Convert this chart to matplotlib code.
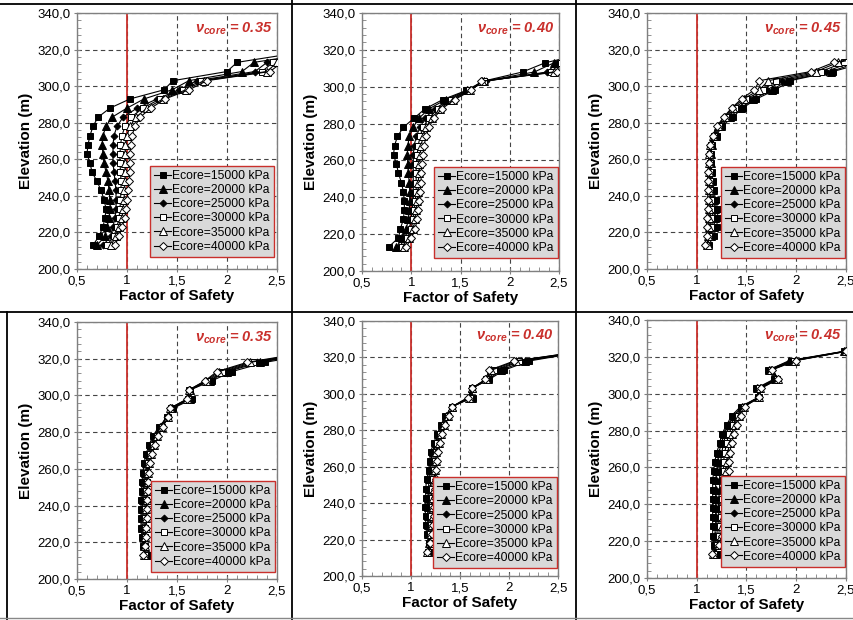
import matplotlib
matplotlib.use("Agg")
import matplotlib.pyplot as plt
from matplotlib.lines import Line2D
from matplotlib.ticker import FuncFormatter, MultipleLocator

plt.rcParams['font.family'] = ['Liberation Sans', 'DejaVu Sans']
plt.rcParams['mathtext.fontset'] = 'custom'
plt.rcParams['mathtext.it'] = 'Liberation Sans:italic:bold'
plt.rcParams['mathtext.rm'] = 'Liberation Sans:bold'

# ---------------- data ----------------
series_labels = ["Ecore=15000 kPa", "Ecore=20000 kPa", "Ecore=25000 kPa",
                 "Ecore=30000 kPa", "Ecore=35000 kPa", "Ecore=40000 kPa"]
nu_labels = ["0.35", "0.40", "0.45", "0.35", "0.40", "0.45"]

elev_top = [213, 218, 223, 228, 233, 238, 243, 248, 253, 258, 263, 268, 273,
            278, 283, 288, 293, 298, 303, 308, 313, 318]
elev_bot = [213, 218, 223, 228, 233, 238, 243, 248, 253, 258, 263, 268, 273,
            278, 283, 288, 293, 298, 303, 308, 313, 318, 323]

# Panel 1 : nu = 0.35 (top)
p1_s1 = [0.66, 0.72, 0.76, 0.78, 0.79, 0.77, 0.74, 0.70, 0.65, 0.63, 0.60, 0.61, 0.63, 0.66, 0.71, 0.83, 1.03, 1.37, 1.46, 2.00, 2.10, 2.68]
p1_s2 = [0.70, 0.78, 0.80, 0.82, 0.83, 0.83, 0.82, 0.81, 0.79, 0.77, 0.76, 0.75, 0.76, 0.79, 0.85, 1.00, 1.17, 1.45, 1.62, 2.15, 2.27, 2.85]
p1_s3 = [0.76, 0.84, 0.86, 0.88, 0.89, 0.89, 0.89, 0.88, 0.87, 0.86, 0.86, 0.86, 0.87, 0.90, 0.96, 1.10, 1.30, 1.52, 1.70, 2.28, 2.40, 2.95]
p1_s4 = [0.80, 0.87, 0.90, 0.92, 0.93, 0.935, 0.94, 0.94, 0.935, 0.93, 0.93, 0.935, 0.95, 0.98, 1.04, 1.16, 1.33, 1.56, 1.74, 2.35, 2.46, 3.00]
p1_s5 = [0.84, 0.89, 0.92, 0.95, 0.96, 0.97, 0.975, 0.98, 0.98, 0.98, 0.98, 0.985, 1.00, 1.03, 1.09, 1.20, 1.36, 1.59, 1.77, 2.40, 2.50, 3.05]
p1_s6 = [0.88, 0.92, 0.95, 0.98, 0.99, 1.00, 1.01, 1.02, 1.03, 1.03, 1.03, 1.04, 1.05, 1.08, 1.13, 1.24, 1.38, 1.62, 1.80, 2.43, 2.55, 3.10]

# Panel 2 : nu = 0.40 (top)
p2_s1 = [0.77, 0.87, 0.89, 0.92, 0.93, 0.93, 0.92, 0.90, 0.87, 0.85, 0.82, 0.83, 0.86, 0.92, 1.03, 1.14, 1.32, 1.56, 1.73, 2.13, 2.36, 2.77]
p2_s2 = [0.85, 0.91, 0.95, 0.97, 0.98, 0.985, 0.985, 0.98, 0.97, 0.965, 0.96, 0.965, 0.98, 1.02, 1.08, 1.18, 1.35, 1.57, 1.74, 2.25, 2.45, 2.95]
p2_s3 = [0.88, 0.94, 0.98, 1.00, 1.01, 1.02, 1.02, 1.02, 1.02, 1.02, 1.02, 1.03, 1.05, 1.09, 1.14, 1.24, 1.38, 1.58, 1.76, 2.38, 2.48, 3.00]
p2_s4 = [0.91, 0.96, 1.00, 1.02, 1.03, 1.04, 1.05, 1.05, 1.05, 1.05, 1.06, 1.07, 1.09, 1.12, 1.18, 1.27, 1.40, 1.59, 1.74, 2.42, 2.52, 3.05]
p2_s5 = [0.93, 0.98, 1.02, 1.04, 1.05, 1.06, 1.07, 1.07, 1.08, 1.08, 1.09, 1.10, 1.12, 1.15, 1.21, 1.29, 1.42, 1.60, 1.72, 2.45, 2.55, 3.05]
p2_s6 = [0.95, 1.00, 1.04, 1.06, 1.07, 1.08, 1.09, 1.10, 1.10, 1.11, 1.12, 1.13, 1.15, 1.18, 1.23, 1.31, 1.44, 1.61, 1.71, 2.48, 2.58, 3.10]

# Panel 3 : nu = 0.45 (top)
p3_s1 = [1.12, 1.17, 1.20, 1.21, 1.21, 1.19, 1.17, 1.16, 1.15, 1.145, 1.14, 1.15, 1.20, 1.25, 1.36, 1.46, 1.60, 1.79, 1.94, 2.37, 2.70, 3.10]
p3_s2 = [1.10, 1.14, 1.17, 1.18, 1.18, 1.17, 1.16, 1.15, 1.14, 1.14, 1.14, 1.15, 1.19, 1.24, 1.33, 1.44, 1.57, 1.76, 1.91, 2.35, 2.62, 3.05]
p3_s3 = [1.10, 1.13, 1.15, 1.16, 1.16, 1.155, 1.15, 1.14, 1.135, 1.135, 1.135, 1.145, 1.18, 1.23, 1.31, 1.41, 1.53, 1.71, 1.86, 2.30, 2.55, 3.00]
p3_s4 = [1.10, 1.12, 1.14, 1.14, 1.14, 1.14, 1.135, 1.13, 1.13, 1.13, 1.13, 1.14, 1.17, 1.22, 1.29, 1.38, 1.50, 1.67, 1.80, 2.25, 2.48, 2.95]
p3_s5 = [1.11, 1.11, 1.12, 1.12, 1.12, 1.125, 1.125, 1.12, 1.12, 1.12, 1.125, 1.135, 1.165, 1.21, 1.28, 1.36, 1.47, 1.63, 1.72, 2.20, 2.42, 2.90]
p3_s6 = [1.08, 1.10, 1.10, 1.10, 1.11, 1.11, 1.11, 1.11, 1.11, 1.12, 1.12, 1.13, 1.16, 1.20, 1.27, 1.35, 1.45, 1.58, 1.63, 2.15, 2.38, 2.85]

# Panel 4 : nu = 0.35 (bottom)
p4_s1 = [1.25, 1.16, 1.15, 1.14, 1.14, 1.14, 1.14, 1.145, 1.15, 1.16, 1.17, 1.19, 1.22, 1.26, 1.32, 1.40, 1.46, 1.65, 1.63, 1.85, 2.05, 2.38, 2.90]
p4_s2 = [1.22, 1.17, 1.16, 1.15, 1.15, 1.15, 1.155, 1.16, 1.165, 1.175, 1.19, 1.21, 1.24, 1.28, 1.33, 1.40, 1.45, 1.63, 1.63, 1.83, 2.00, 2.33, 2.85]
p4_s3 = [1.20, 1.17, 1.17, 1.16, 1.165, 1.17, 1.17, 1.175, 1.18, 1.19, 1.20, 1.22, 1.25, 1.29, 1.34, 1.40, 1.44, 1.62, 1.62, 1.82, 1.97, 2.30, 2.82]
p4_s4 = [1.18, 1.18, 1.18, 1.175, 1.18, 1.18, 1.185, 1.19, 1.195, 1.20, 1.21, 1.23, 1.26, 1.30, 1.35, 1.41, 1.44, 1.61, 1.62, 1.80, 1.95, 2.26, 2.80]
p4_s5 = [1.17, 1.18, 1.18, 1.185, 1.19, 1.19, 1.195, 1.20, 1.205, 1.21, 1.22, 1.24, 1.27, 1.30, 1.35, 1.41, 1.43, 1.60, 1.62, 1.79, 1.92, 2.23, 2.78]
p4_s6 = [1.16, 1.18, 1.19, 1.19, 1.20, 1.20, 1.20, 1.205, 1.21, 1.22, 1.23, 1.25, 1.28, 1.31, 1.36, 1.41, 1.43, 1.60, 1.62, 1.78, 1.90, 2.20, 2.75]

# Panel 5 : nu = 0.40 (bottom)
p5_s1 = [1.21, 1.18, 1.16, 1.15, 1.15, 1.14, 1.15, 1.15, 1.16, 1.18, 1.19, 1.20, 1.23, 1.27, 1.31, 1.35, 1.42, 1.63, 1.62, 1.80, 1.95, 2.20, 2.75]
p5_s2 = [1.19, 1.18, 1.17, 1.17, 1.17, 1.17, 1.17, 1.18, 1.18, 1.19, 1.20, 1.22, 1.25, 1.28, 1.32, 1.36, 1.42, 1.62, 1.62, 1.79, 1.92, 2.16, 2.73]
p5_s3 = [1.18, 1.18, 1.18, 1.18, 1.19, 1.19, 1.19, 1.20, 1.20, 1.21, 1.22, 1.23, 1.26, 1.29, 1.33, 1.37, 1.42, 1.61, 1.62, 1.78, 1.88, 2.12, 2.72]
p5_s4 = [1.17, 1.19, 1.19, 1.20, 1.20, 1.21, 1.21, 1.21, 1.22, 1.23, 1.24, 1.25, 1.27, 1.30, 1.34, 1.38, 1.42, 1.60, 1.62, 1.77, 1.85, 2.10, 2.71]
p5_s5 = [1.16, 1.19, 1.20, 1.21, 1.22, 1.22, 1.22, 1.23, 1.24, 1.24, 1.25, 1.26, 1.29, 1.31, 1.34, 1.38, 1.42, 1.59, 1.62, 1.77, 1.82, 2.07, 2.70]
p5_s6 = [1.16, 1.19, 1.21, 1.22, 1.23, 1.23, 1.24, 1.24, 1.25, 1.26, 1.27, 1.28, 1.30, 1.32, 1.35, 1.39, 1.42, 1.58, 1.62, 1.76, 1.80, 2.05, 2.70]

# Panel 6 : nu = 0.45 (bottom)
p6_s1 = [1.21, 1.17, 1.16, 1.16, 1.16, 1.16, 1.16, 1.16, 1.16, 1.17, 1.18, 1.20, 1.23, 1.25, 1.30, 1.35, 1.44, 1.62, 1.60, 1.78, 1.72, 1.95, 2.48]
p6_s2 = [1.19, 1.18, 1.18, 1.19, 1.19, 1.19, 1.19, 1.19, 1.19, 1.20, 1.21, 1.22, 1.25, 1.27, 1.32, 1.37, 1.45, 1.62, 1.61, 1.79, 1.73, 1.93, 2.48]
p6_s3 = [1.18, 1.19, 1.20, 1.21, 1.22, 1.22, 1.22, 1.23, 1.23, 1.23, 1.24, 1.25, 1.27, 1.29, 1.34, 1.39, 1.46, 1.62, 1.62, 1.80, 1.74, 1.96, 2.49]
p6_s4 = [1.17, 1.20, 1.22, 1.23, 1.24, 1.25, 1.25, 1.26, 1.26, 1.27, 1.27, 1.28, 1.30, 1.32, 1.36, 1.41, 1.47, 1.63, 1.63, 1.81, 1.75, 1.98, 2.50]
p6_s5 = [1.16, 1.21, 1.24, 1.25, 1.26, 1.27, 1.28, 1.28, 1.29, 1.29, 1.30, 1.31, 1.33, 1.35, 1.38, 1.42, 1.47, 1.63, 1.64, 1.82, 1.75, 1.99, 2.50]
p6_s6 = [1.15, 1.22, 1.25, 1.27, 1.28, 1.29, 1.30, 1.31, 1.31, 1.32, 1.32, 1.33, 1.35, 1.37, 1.40, 1.44, 1.48, 1.63, 1.65, 1.82, 1.76, 2.00, 2.50]

panels = [
    (elev_top, [p1_s1, p1_s2, p1_s3, p1_s4, p1_s5, p1_s6]),
    (elev_top, [p2_s1, p2_s2, p2_s3, p2_s4, p2_s5, p2_s6]),
    (elev_top, [p3_s1, p3_s2, p3_s3, p3_s4, p3_s5, p3_s6]),
    (elev_bot, [p4_s1, p4_s2, p4_s3, p4_s4, p4_s5, p4_s6]),
    (elev_bot, [p5_s1, p5_s2, p5_s3, p5_s4, p5_s5, p5_s6]),
    (elev_bot, [p6_s1, p6_s2, p6_s3, p6_s4, p6_s5, p6_s6]),
]

# ---------------- style ----------------
W, H = 854, 620
# axes boxes in pixels: left, right, top, bottom
boxes = [(77, 277, 13, 269), (362, 559, 13, 271), (647, 846, 13, 269),
         (77, 277, 322, 579), (362, 558, 321, 576), (647, 846, 320, 578)]
legend_anchor = [(0.985, 0.047), (0.995, 0.05), (0.995, 0.043),
                 (0.99, 0.027), (0.995, 0.03), (0.995, 0.043)]

styles = [
    dict(marker='s', mfc='black', ms=5),
    dict(marker='^', mfc='black', ms=5.5),
    dict(marker='D', mfc='black', ms=3.5),
    dict(marker='s', mfc='white', ms=5),
    dict(marker='^', mfc='white', ms=5.5),
    dict(marker='D', mfc='white', ms=4),
]
RED = '#c9302c'

fig = plt.figure(figsize=(W / 100, H / 100), dpi=100)

yfmt = FuncFormatter(lambda v, p: f"{v:.1f}".replace('.', ','))
xfmt = FuncFormatter(lambda v, p: f"{v:g}".replace('.', ','))

for i, ((elev, sers), (l, r, t, b)) in enumerate(zip(panels, boxes)):
    ax = fig.add_axes([l / W, 1 - b / H, (r - l) / W, (b - t) / H])
    ax.set_xlim(0.5, 2.5)
    ax.set_ylim(200, 340)
    ax.xaxis.set_major_locator(MultipleLocator(0.5))
    ax.xaxis.set_minor_locator(MultipleLocator(0.1))
    ax.yaxis.set_major_locator(MultipleLocator(20))
    ax.yaxis.set_minor_locator(MultipleLocator(4))
    ax.xaxis.set_major_formatter(xfmt)
    ax.yaxis.set_major_formatter(yfmt)
    ax.grid(True, which='major', color='#444444', linestyle=(0, (4, 3)), linewidth=0.8)
    ax.set_axisbelow(True)
    for s in ax.spines.values():
        s.set_color('#808080')
        s.set_linewidth(1.0)
    ax.tick_params(which='major', direction='inout', length=5, color='#808080',
                   labelsize=9.5, pad=2)
    ax.tick_params(which='minor', direction='in', length=3, color='#808080')
    ax.axvline(1.0, color=RED, lw=1.3, zorder=2)
    for vals, lab, st in zip(sers, series_labels, styles):
        ax.plot(vals, elev, color='black', lw=0.8, mec='black', mew=0.7,
                label=lab, zorder=3, **st)
    ax.set_xlabel('Factor of Safety', fontsize=11, fontweight='bold', labelpad=1)
    ax.set_ylabel('Elevation (m)', fontsize=11, fontweight='bold', labelpad=3)
    ax.text(0.975, 0.94, r'$\nu_{core}$' + ' = ' + nu_labels[i], transform=ax.transAxes,
            ha='right', va='center', color=RED, fontsize=10.5,
            fontweight='bold', fontstyle='italic')
    leg = ax.legend(loc='lower right', bbox_to_anchor=legend_anchor[i], borderaxespad=0,
                    fontsize=8.7, frameon=True, fancybox=False, handlelength=1.4,
                    handletextpad=0.1, labelspacing=0.18, borderpad=0.35)
    fr = leg.get_frame()
    fr.set_facecolor('#d9d9d9')
    fr.set_edgecolor(RED)
    fr.set_linewidth(1.0)
    fr.set_alpha(1)

# cell borders
def fline(x0, y0, x1, y1, color='black', lw=1.3):
    fig.add_artist(Line2D([x0 / W, x1 / W], [1 - y0 / H, 1 - y1 / H],
                          transform=fig.transFigure, color=color, lw=lw))

fline(0, 4, W, 4)
fline(0, 312, W, 312)
fline(292, 0, 292, H)
fline(576, 0, 576, H)
fline(7, 312, 7, H)
fline(0, 618, W, 618, color='#888888', lw=1.0)

fig.savefig('out.png', dpi=100)
